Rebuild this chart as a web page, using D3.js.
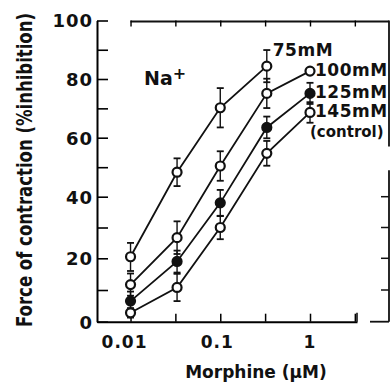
<!DOCTYPE html>
<html>
<head>
<meta charset="utf-8">
<script src="https://cdn.jsdelivr.net/npm/d3@7"></script>
<style>
  body { margin: 0; background: #fff; }
  text { font-family: "DejaVu Sans", sans-serif; font-weight: bold; fill: #111; }
</style>
</head>
<body>
<svg id="chart" width="391" height="384"></svg>
<script>
/* values */
var doses = [0.01, 0.033, 0.1, 0.33, 1];
var xTickLabels = ["0.01", "0.1", "1"];
var yTickLabels = [0, 20, 40, 60, 80, 100];

var na75 = [20.5, 48.3, 70.2, 84.4];
var na75Err = [4.5, 4.7, 6.7, 5.5];
var na100 = [11.7, 26.7, 50.4, 75.1, 82.7];
var na100Err = [3.5, 5.3, 5, 5, 0];
var na125 = [6.5, 19, 38, 63.5, 75.1];
var na125Err = [3, 3.5, 4.3, 3.7, 3.6];
var na145 = [2.8, 10.8, 30, 54.7, 68.6];
var na145Err = [1.5, 4.3, 3.8, 4.2, 3.5];

var seriesNames = ["75mM", "100mM", "125mM", "145mM"];

var svg = d3.select("#chart");

// log x axis, the scanned y axis is a bit stretched at the bottom
var x = d3.scaleLog().domain([0.00423, 3.34]).range([97, 357]);
var y = d3.scaleLinear()
  .domain([0, 20, 40, 60, 80, 100])
  .range([321.7, 258.3, 196.7, 137.7, 79, 20.5]);

function makeSeries(name, vals, errs, fill) {
  return { name: name, fill: fill, pts: vals.map(function(v, i) {
    return { dose: doses[i], v: v, e: errs[i] };
  }) };
}

var series = [
  makeSeries(seriesNames[0], na75, na75Err, "#fff"),
  makeSeries(seriesNames[1], na100, na100Err, "#fff"),
  makeSeries(seriesNames[2], na125, na125Err, "#111"),
  makeSeries(seriesNames[3], na145, na145Err, "#fff")
];

/* frame */
var frame = svg.append("g").attr("stroke", "#111").attr("fill", "none");

// left axis, ticks pointing inwards
var yAxis = d3.axisLeft(y).tickValues(yTickLabels).tickSizeInner(-11).tickSizeOuter(0).tickPadding(4);
var yAx = svg.append("g").attr("transform", "translate(97,0)").call(yAxis);
yAx.select(".domain").attr("stroke-width", 2);
yAx.selectAll(".tick line").attr("stroke-width", 1.6);
yAx.selectAll(".tick text").style("font-size", "18px").style("letter-spacing", "1px")
  .attr("font-family", null).attr("fill", null).attr("dy", "0.36em");

var yMinor = d3.axisLeft(y).tickValues([10, 30, 50, 70, 90]).tickSize(-11).tickFormat("");
svg.append("g").attr("transform", "translate(97,0)").call(yMinor)
  .call(function(g) { g.select(".domain").remove(); })
  .selectAll("line").attr("stroke-width", 1.6);

// bottom axis
var halfDecades = [0.01, 0.0316, 0.1, 0.316, 1, 3.16];
var xAxis = d3.axisBottom(x).tickValues(halfDecades).tickSizeInner(-8).tickSizeOuter(0).tickFormat("");
var xAx = svg.append("g").attr("transform", "translate(0," + y(0) + ")").call(xAxis);
xAx.select(".domain").attr("stroke-width", 2);
xAx.selectAll(".tick line").attr("stroke-width", 1.5);
// last tick is the right end of the panel
svg.append("line").attr("x1", 357).attr("x2", 357).attr("y1", y(0)).attr("y2", y(0) - 9)
  .attr("stroke", "#111").attr("stroke-width", 1.6);

svg.selectAll(".xlab").data(xTickLabels).enter().append("text")
  .attr("class", "xlab")
  .attr("x", function(d) { return x(+d) - (d == "0.01" ? 6 : d == "0.1" ? 3 : 0); })
  .attr("y", 348)
  .attr("text-anchor", "middle")
  .style("font-size", "17px")
  .style("letter-spacing", "1px")
  .text(function(d) { return d; });

// top border with a few ticks
var topAxis = d3.axisTop(x).tickValues(halfDecades).tickSizeInner(-6).tickSizeOuter(0).tickFormat("");
var tAx = svg.append("g").attr("transform", "translate(0," + y(100) + ")").call(topAxis);
tAx.select(".domain").remove();
tAx.selectAll("line").attr("stroke-width", 1.4);
frame.append("line").attr("x1", x(0.01)).attr("x2", 389).attr("y1", y(100) + 1).attr("y2", y(100) + 1).attr("stroke-width", 1.8);

// edge of the next panel, cut off by the crop
frame.append("line").attr("x1", 389).attr("x2", 389).attr("y1", y(100)).attr("y2", y(57)).attr("stroke-width", 1.8);
frame.append("line").attr("x1", 389).attr("x2", 389).attr("y1", y(49)).attr("y2", y(0)).attr("stroke-width", 1.8);
frame.append("line").attr("x1", 370).attr("x2", 389).attr("y1", y(0)).attr("y2", y(0)).attr("stroke-width", 1.8);
frame.selectAll(".nb").data([10, 20, 30, 40]).enter().append("line")
  .attr("x1", 381).attr("x2", 389)
  .attr("y1", function(d) { return y(d); }).attr("y2", function(d) { return y(d); })
  .attr("stroke-width", 1.5);

/* axis titles */
// the scanned title uses a tall, narrow face: stretch the glyph height
svg.append("text")
  .attr("transform", "translate(32,170) rotate(-90) scale(1,1.35)")
  .attr("text-anchor", "middle")
  .attr("textLength", 314)
  .attr("lengthAdjust", "spacingAndGlyphs")
  .style("font-size", "16px")
  .text("Force of contraction (%inhibition)");

svg.append("text")
  .attr("x", 256).attr("y", 378)
  .attr("text-anchor", "middle")
  .style("font-size", "17px")
  .text("Morphine (\u00b5M)");

var na = svg.append("text").attr("x", 144).attr("y", 85).style("font-size", "19px");
na.append("tspan").text("Na");
na.append("tspan").attr("dy", -6).style("font-size", "16px").text("+");

/* curves */
var line = d3.line()
  .x(function(d) { return x(d.dose); })
  .y(function(d) { return y(d.v); });

var g = svg.append("g");

g.selectAll(".curve").data(series).enter().append("path")
  .attr("class", "curve")
  .attr("d", function(s) { return line(s.pts); })
  .attr("fill", "none")
  .attr("stroke", "#111")
  .attr("stroke-width", 1.8);

var allPts = [];
series.forEach(function(s) { s.pts.forEach(function(p) { allPts.push({ p: p, fill: s.fill }); }); });

var bars = g.selectAll(".err").data(allPts.filter(function(d) { return d.p.e > 0; })).enter().append("g")
  .attr("stroke", "#111").attr("stroke-width", 1.4);
bars.append("line")
  .attr("x1", function(d) { return x(d.p.dose); }).attr("x2", function(d) { return x(d.p.dose); })
  .attr("y1", function(d) { return y(d.p.v - d.p.e); }).attr("y2", function(d) { return y(d.p.v + d.p.e); });
[-1, 1].forEach(function(sgn) {
  bars.append("line")
    .attr("x1", function(d) { return x(d.p.dose) - 3.5; }).attr("x2", function(d) { return x(d.p.dose) + 3.5; })
    .attr("y1", function(d) { return y(d.p.v + sgn * d.p.e); }).attr("y2", function(d) { return y(d.p.v + sgn * d.p.e); })
    .attr("stroke-width", 1.8);
});

g.selectAll(".pt").data(allPts).enter().append("circle")
  .attr("cx", function(d) { return x(d.p.dose); })
  .attr("cy", function(d) { return y(d.p.v); })
  .attr("r", 4.5)
  .attr("fill", function(d) { return d.fill; })
  .attr("stroke", "#111")
  .attr("stroke-width", 2.2);

/* series labels */
series.forEach(function(s, i) {
  var last = s.pts[s.pts.length - 1];
  var lx = x(last.dose) + (i == 0 ? 6 : 5);
  var ly = y(last.v) + (i == 0 ? -10 : 5);
  svg.append("text").attr("x", lx).attr("y", ly)
    .style("font-size", "17px").style("letter-spacing", "0.5px")
    .text(s.name);
  if (i == 3) {
    svg.append("text").attr("x", lx - 5).attr("y", ly + 20)
      .style("font-size", "15px")
      .text("(control)");
  }
});
</script>
</body>
</html>
